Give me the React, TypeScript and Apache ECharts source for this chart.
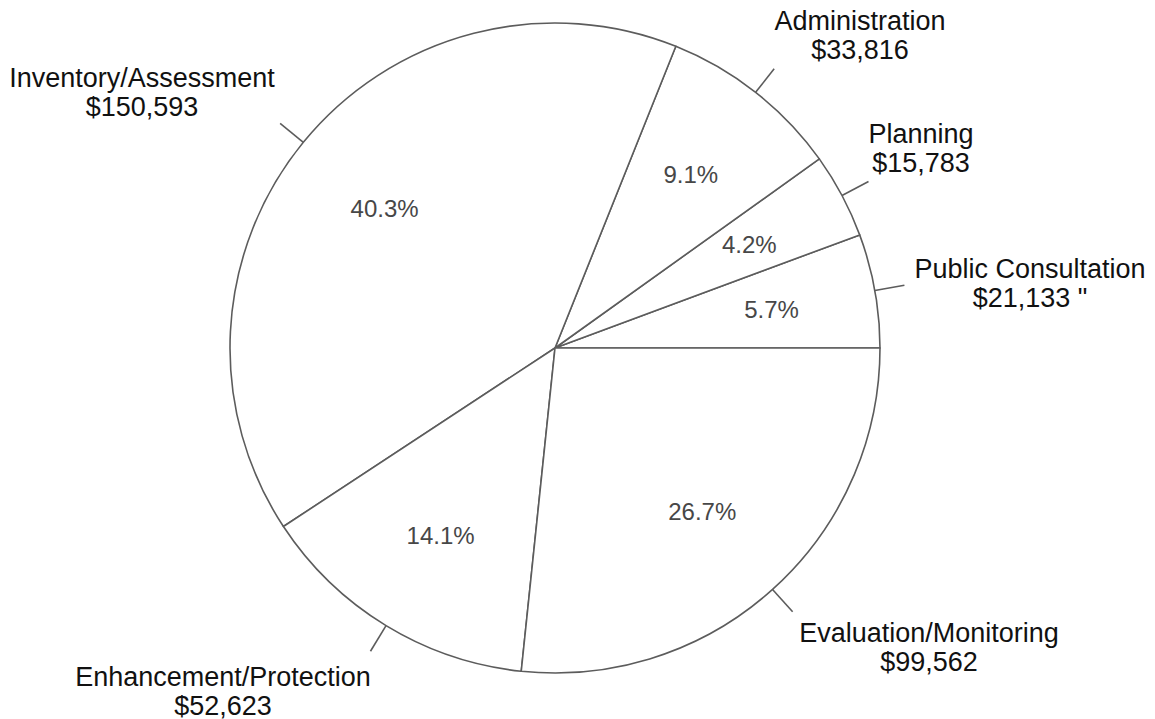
import React, { useEffect, useRef } from "react";
import * as echarts from "echarts";

// Slices listed counter-clockwise, starting at 3 o'clock
const categories = [
  "Public Consultation",
  "Planning",
  "Administration",
  "Inventory/Assessment",
  "Enhancement/Protection",
  "Evaluation/Monitoring",
];
const amounts = [21133, 15783, 33816, 150593, 52623, 99562];
const amountNotes = [' "', "", "", "", "", ""];

// Layout: centres of the outer name/amount labels (pixels)
const labelCenters: [number, number][] = [
  [1030, 283],
  [921, 148],
  [860, 35],
  [142, 92],
  [223, 691],
  [929, 647],
];

const fmtMoney = (v: number) =>
  "$" + String(v).replace(/\B(?=(\d{3})+(?!\d))/g, ",");

export default function App() {
  const ref = useRef<HTMLDivElement>(null);
  useEffect(() => {
    const el = ref.current;
    if (!el) return;
    const chart = echarts.init(el, null, { renderer: "svg" });
    const total = amounts.reduce((a, b) => a + b, 0);
    const data = categories.map((name, i) => ({ name, value: amounts[i] }));
    const font = '"Liberation Sans", Arial, Helvetica, sans-serif';
    chart.setOption({
      animation: false,
      backgroundColor: "#ffffff",
      series: [
        {
          type: "pie",
          center: [555, 348],
          radius: [0, 325],
          startAngle: 0,
          clockwise: false,
          avoidLabelOverlap: false,
          silent: true,
          data,
          itemStyle: { color: "#ffffff", borderColor: "#5c5c5c", borderWidth: 1.6 },
          label: {
            show: true,
            position: "outside",
            overflow: "none",
            fontFamily: font,
            fontSize: 27,
            lineHeight: 29,
            color: "#111111",
            formatter: (p: any) =>
              `${p.name}\n${fmtMoney(amounts[p.dataIndex])}${amountNotes[p.dataIndex]}`,
          },
          labelLine: {
            show: true,
            length: 30,
            length2: 0,
            smooth: false,
            lineStyle: { color: "#5c5c5c", width: 1.6 },
          },
          labelLayout: (params: any) => {
            const c = labelCenters[params.dataIndex];
            return {
              x: c[0],
              y: c[1],
              align: "center",
              verticalAlign: "middle",
              labelLinePoints: params.labelLinePoints,
            };
          },
          emphasis: { disabled: true },
        },
        {
          type: "pie",
          center: [555, 348],
          radius: [109, 325],
          startAngle: 0,
          clockwise: false,
          avoidLabelOverlap: false,
          silent: true,
          data,
          itemStyle: { color: "rgba(0,0,0,0)", borderWidth: 0 },
          label: {
            show: true,
            position: "inside",
            fontFamily: font,
            fontSize: 24,
            color: "#474747",
            formatter: (p: any) => ((p.value / total) * 100).toFixed(1) + "%",
          },
          labelLine: { show: false },
          emphasis: { disabled: true },
        },
      ],
    });
    return () => chart.dispose();
  }, []);
  return (
    <div
      ref={ref}
      style={{ position: "fixed", left: 0, top: 0, width: 1155, height: 719 }}
    />
  );
}
